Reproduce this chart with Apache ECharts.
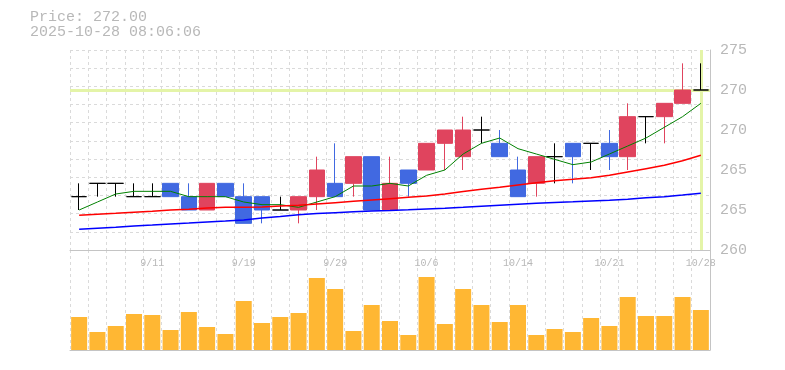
<!DOCTYPE html>
<html><head><meta charset="utf-8">
<script src="https://cdn.jsdelivr.net/npm/echarts@6/dist/echarts.min.js"></script>
<style>html,body{margin:0;padding:0;background:#fff}#c{width:785px;height:370px}</style>
</head><body><div id="c"></div>
<script>
const dates = ['9/5','9/8','9/9','9/10','9/11','9/12','9/16','9/17','9/18','9/19','9/22','9/24','9/25','9/26','9/29','9/30','10/1','10/2','10/3','10/6','10/7','10/8','10/9','10/10','10/14','10/15','10/16','10/17','10/20','10/21','10/22','10/23','10/24','10/27','10/28'];
const opens  = [264,265,265,264,264,265,264,263,265,264,264,263,263,264,265,265,267,263,266,266,268,267,269,268,266,265,267,268,268,268,267,270,270,271,272];
const closes = [264,265,265,264,264,264,263,265,264,262,263,263,264,266,264,267,263,265,265,268,269,269,269,267,264,267,267,267,268,267,270,270,271,272,272];
const lows   = [263,264,264,264,264,264,263,263,264,262,262,263,262,263,264,264,263,263,264,266,266,266,268,267,264,264,265,265,266,266,266,268,268,271,272];
const highs  = [265,265,265,265,265,265,265,265,265,265,264,264,264,267,268,267,267,267,266,268,269,270,270,269,267,267,268,268,268,269,271,270,271,274,274];
const volumes = [33,18,24,36,35,20,38,23,16,49,27,33,37,72,61,19,45,29,15,73,26,61,45,28,45,15,21,18,32,24,53,34,34,53,40];
const ma5  = [263.0,263.6,264.2,264.4,264.4,264.4,264.0,264.0,264.0,263.6,263.4,263.4,263.2,263.6,264.0,264.8,264.8,265.0,264.8,265.6,266.0,267.2,268.0,268.4,267.6,267.2,266.8,266.4,266.6,267.2,267.8,268.4,269.2,270.0,271.0];
const ma25 = [262.60,262.68,262.75,262.83,262.90,263.00,263.05,263.15,263.20,263.20,263.22,263.30,263.35,263.45,263.55,263.65,263.75,263.85,263.95,264.05,264.20,264.38,264.55,264.70,264.88,265.05,265.20,265.30,265.42,265.60,265.85,266.10,266.35,266.70,267.10];
const ma75 = [261.55,261.63,261.70,261.80,261.87,261.95,262.02,262.10,262.17,262.25,262.40,262.52,262.65,262.73,262.80,262.87,262.93,262.97,263.02,263.08,263.13,263.20,263.28,263.36,263.43,263.50,263.57,263.62,263.68,263.73,263.80,263.92,264.00,264.12,264.25];
const priceTicks = [260,263,266,269,272,275];
const priceTickLabels = ['260','265','265','270','270','275'];
const stamp = '2025-10-28 08:06:06';

const chart = echarts.init(document.getElementById('c'), null, {renderer:'canvas'});
const MONO = '"Liberation Mono", "DejaVu Sans Mono", monospace';
const GRAY = '#b8b8b8';
const BORDER = '#c4c4c4';
const GRID = '#dadada';
const last = closes.length - 1;
const candleData = dates.map((d,i)=>[opens[i], closes[i], lows[i], highs[i]]);
const option = {
  animation:false,
  title:{ text: 'Price: ' + closes[last].toFixed(2) + '\n' + stamp, left: 30, top: 10, padding:0,
    textStyle:{fontFamily:MONO,fontSize:15,fontWeight:'normal',color:GRAY,lineHeight:15}},
  grid:[{left:70, top:50, width:640, height:200}, {left:70, top:250, width:640, height:100}],
  xAxis:[
    {type:'category', gridIndex:0, data:dates, boundaryGap:true,
     axisLine:{show:true, lineStyle:{color:BORDER}}, axisTick:{show:false}, axisLabel:{show:false},
     splitLine:{show:true, interval:0, lineStyle:{color:GRID, type:[3,3]}}},
    {type:'category', gridIndex:1, data:dates, boundaryGap:true,
     axisLine:{show:true, lineStyle:{color:BORDER}}, axisTick:{show:false}, axisLabel:{show:false},
     splitLine:{show:true, interval:0, lineStyle:{color:GRID, type:[3,3]}}},
    {type:'category', gridIndex:1, position:'top', data:dates, boundaryGap:true,
     axisLine:{show:false}, axisTick:{show:false},
     axisLabel:{show:true, inside:true, margin:8, interval:(i)=> i%5===4, fontFamily:MONO, fontSize:10, color:GRAY},
     splitLine:{show:false}}
  ],
  yAxis:[
    {type:'value', gridIndex:0, position:'right', min:260, max:275, interval:3, scale:true,
     axisLine:{show:true, lineStyle:{color:BORDER}}, axisTick:{show:false}, splitLine:{show:false},
     axisLabel:{margin:10, fontFamily:MONO, fontSize:15, color:GRAY,
       formatter:(v)=> priceTickLabels[priceTicks.indexOf(Math.round(v))]}},
    {type:'value', gridIndex:0, position:'left', min:0, max:11, interval:1,
     axisLine:{show:false}, axisTick:{show:false}, axisLabel:{show:false},
     splitLine:{show:true, lineStyle:{color:GRID, type:[3,3]}}},
    {type:'value', gridIndex:1, position:'right', min:0, max:100,
     axisLine:{show:true, lineStyle:{color:BORDER}}, axisTick:{show:false}, axisLabel:{show:false}, splitLine:{show:false}}
  ],
  series:[
    {type:'line', xAxisIndex:0, yAxisIndex:0, data:closes, showSymbol:false, z:1, silent:true,
     lineStyle:{width:0, opacity:0},
     markLine:{silent:true, z:1, symbol:['none','none'], label:{show:false},
       lineStyle:{color:'#e4f4a8', width:3, type:'solid'},
       data:[{yAxis: closes[last]}, {xAxis: dates[last]}]}},
    {type:'candlestick', xAxisIndex:0, yAxisIndex:0, data:candleData, barWidth:16, z:3,
     itemStyle:{color:'#e0445e', color0:'#4169e1', borderColor:'#e0445e', borderColor0:'#4169e1', borderColorDoji:'#000000', borderWidth:1}},
    {type:'line', xAxisIndex:0, yAxisIndex:0, data:ma5, showSymbol:false, z:4, lineStyle:{color:'#008000', width:1}},
    {type:'line', xAxisIndex:0, yAxisIndex:0, data:ma25, showSymbol:false, z:4, lineStyle:{color:'#ff0000', width:1.5}},
    {type:'line', xAxisIndex:0, yAxisIndex:0, data:ma75, showSymbol:false, z:4, lineStyle:{color:'#0000ff', width:1.5}},
    {type:'bar', xAxisIndex:1, yAxisIndex:2, data:volumes, barWidth:16, itemStyle:{color:'#ffb733'}}
  ]
};
chart.setOption(option);
</script></body></html>
